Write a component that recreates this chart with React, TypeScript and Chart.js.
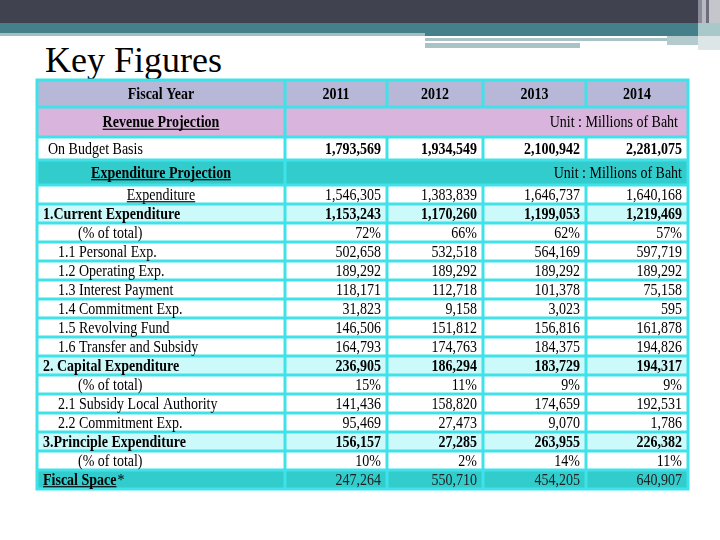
import React, { useEffect, useRef } from "react";
import { Chart, registerables } from "chart.js";

Chart.register(...registerables);

// ---------- data ----------
const years = ["2011", "2012", "2013", "2014"];
const headerLabel = "Fiscal Year";
const revenueTitle = "Revenue Projection";
const revenueRowLabel = "On Budget Basis";
const expenditureTitle = "Expenditure Projection";
const unitText = "Unit : Millions of Baht";
const revenueOnBudget = [1793569, 1934549, 2100942, 2281075];

const rowLabels = [
  "Expenditure",
  "1.Current Expenditure",
  "(% of total)",
  "1.1 Personal Exp.",
  "1.2 Operating Exp.",
  "1.3 Interest Payment",
  "1.4 Commitment Exp.",
  "1.5 Revolving Fund",
  "1.6 Transfer and Subsidy",
  "2. Capital Expenditure",
  "(% of total)",
  "2.1 Subsidy Local Authority",
  "2.2 Commitment Exp.",
  "3.Principle Expenditure",
  "(% of total)",
  "Fiscal Space",
];
const values2011 = [1546305, 1153243, 72, 502658, 189292, 118171, 31823, 146506, 164793, 236905, 15, 141436, 95469, 156157, 10, 247264];
const values2012 = [1383839, 1170260, 66, 532518, 189292, 112718, 9158, 151812, 174763, 186294, 11, 158820, 27473, 27285, 2, 550710];
const values2013 = [1646737, 1199053, 62, 564169, 189292, 101378, 3023, 156816, 184375, 183729, 9, 174659, 9070, 263955, 14, 454205];
const values2014 = [1640168, 1219469, 57, 597719, 189292, 75158, 595, 161878, 194826, 194317, 9, 192531, 1786, 226382, 11, 640907];
const valuesByYear = [values2011, values2012, values2013, values2014];

// ---------- layout / style ----------
const COL_EDGES = [0, 248, 350, 446, 549, 651];
const HEAD_ROW_H = [27, 30, 23, 25];
const DATA_ROW_H = 19;
const FONT = '"Liberation Serif", "Times New Roman", serif';
const FONT_SIZE = 14;
const Y_STRETCH = 1.12;
const BORDER = "#3fe2e8";
const C_HEADER = "#b7b7d7";
const C_REVENUE = "#d9b4dc";
const C_TEAL = "#33cccc";
const C_LIGHT = "#ccfafa";

function fmt(v: number) {
  return v.toLocaleString("en-US");
}

function drawText(
  ctx: CanvasRenderingContext2D,
  text: string,
  x: number,
  y: number,
  align: CanvasTextAlign,
  bold: boolean,
  underline = false,
  color = "#000"
) {
  ctx.save();
  ctx.font = `${bold ? "bold " : ""}${FONT_SIZE}px ${FONT}`;
  ctx.textAlign = align;
  ctx.textBaseline = "alphabetic";
  ctx.fillStyle = color;
  ctx.translate(x, y);
  ctx.scale(1, Y_STRETCH);
  ctx.fillText(text, 0, 0);
  const w = ctx.measureText(text).width;
  if (underline) {
    const x0 = align === "left" ? 0 : align === "center" ? -w / 2 : -w;
    ctx.fillRect(x0, 1.5, w, 1);
  }
  ctx.restore();
  return w;
}

const tablePlugin = {
  id: "keyFiguresTable",
  afterDraw(chart: any) {
    const ctx: CanvasRenderingContext2D = chart.ctx;
    const xs = chart.scales.x;
    const ys = chart.scales.y;
    const heights = [...HEAD_ROW_H, ...rowLabels.map(() => DATA_ROW_H)];
    const tops: number[] = [];
    let acc = 0;
    heights.forEach((h) => {
      tops.push(acc);
      acc += h;
    });
    const px = (v: number) => xs.getPixelForValue(v);
    const py = (v: number) => ys.getPixelForValue(v);
    const colL = (c: number) => px(COL_EDGES[c]);
    const colR = (c: number) => px(COL_EDGES[c + 1]);
    const rowT = (r: number) => py(tops[r]);
    const rowB = (r: number) => py(tops[r] + heights[r]);
    const base = (r: number) => (rowT(r) + rowB(r)) / 2 + 5;

    const isBold = (i: number) => /^\d\.\s?[A-Z]/.test(rowLabels[i]);
    const isFiscal = (i: number) => i === rowLabels.length - 1;

    const rowFill = (r: number) => {
      if (r === 0) return C_HEADER;
      if (r === 1) return C_REVENUE;
      if (r === 2) return "#ffffff";
      if (r === 3) return C_TEAL;
      const i = r - 4;
      if (isFiscal(i)) return C_TEAL;
      if (isBold(i)) return C_LIGHT;
      return "#ffffff";
    };

    // fills
    heights.forEach((_, r) => {
      ctx.fillStyle = rowFill(r);
      ctx.fillRect(colL(0), rowT(r), colR(COL_EDGES.length - 2) - colL(0), rowB(r) - rowT(r));
    });

    // borders
    ctx.strokeStyle = BORDER;
    ctx.lineWidth = 3;
    ctx.beginPath();
    heights.forEach((_, r) => {
      ctx.moveTo(colL(0) - 1.5, rowT(r));
      ctx.lineTo(colR(COL_EDGES.length - 2) + 1.5, rowT(r));
    });
    ctx.moveTo(colL(0) - 1.5, rowB(heights.length - 1));
    ctx.lineTo(colR(COL_EDGES.length - 2) + 1.5, rowB(heights.length - 1));
    heights.forEach((_, r) => {
      COL_EDGES.forEach((e, ci) => {
        const merged = (r === 1 || r === 3) && ci >= 2 && ci <= COL_EDGES.length - 2;
        if (merged) return;
        ctx.moveTo(px(e), rowT(r));
        ctx.lineTo(px(e), rowB(r));
      });
    });
    ctx.stroke();

    const right = colR(COL_EDGES.length - 2);
    const labelCenter = (colL(0) + colR(0)) / 2;

    // header row
    drawText(ctx, headerLabel, labelCenter, base(0), "center", true);
    years.forEach((yr, k) => {
      drawText(ctx, yr, (colL(k + 1) + colR(k + 1)) / 2, base(0), "center", true);
    });
    // revenue title
    drawText(ctx, revenueTitle, labelCenter, base(1), "center", true, true);
    drawText(ctx, unitText, right - 10, base(1), "right", false);
    // revenue values
    drawText(ctx, revenueRowLabel, colL(0) + 11, base(2), "left", false);
    revenueOnBudget.forEach((v, k) => {
      drawText(ctx, fmt(v), colR(k + 1) - 6, base(2), "right", true);
    });
    // expenditure title
    drawText(ctx, expenditureTitle, labelCenter, base(3), "center", true, true);
    drawText(ctx, unitText, right - 6, base(3), "right", false);

    // data rows
    rowLabels.forEach((label, i) => {
      const r = i + 4;
      const b = base(r);
      const bold = isBold(i);
      if (isFiscal(i)) {
        const w = drawText(ctx, label, colL(0) + 6, b, "left", true, true);
        drawText(ctx, "*", colL(0) + 7 + w, b, "left", false);
      } else if (label === "Expenditure") {
        drawText(ctx, label, labelCenter, b, "center", false, true);
      } else if (label.startsWith("(")) {
        drawText(ctx, label, colL(0) + 41, b, "left", false);
      } else if (bold) {
        drawText(ctx, label, colL(0) + 6, b, "left", true);
      } else {
        drawText(ctx, label, colL(0) + 21, b, "left", false);
      }
      valuesByYear.forEach((vals, k) => {
        const txt = label.startsWith("(") ? `${vals[i]}%` : fmt(vals[i]);
        drawText(ctx, txt, colR(k + 1) - 6, b, "right", bold, false, isFiscal(i) ? "#222" : "#000");
      });
    });
  },
};

export default function App() {
  const canvasRef = useRef<HTMLCanvasElement | null>(null);

  useEffect(() => {
    if (!canvasRef.current) return;
    const total = HEAD_ROW_H.reduce((a, b) => a + b, 0) + rowLabels.length * DATA_ROW_H;
    const chart = new Chart(canvasRef.current, {
      type: "scatter",
      data: { datasets: [] },
      options: {
        animation: false,
        responsive: false,
        events: [],
        layout: { padding: { left: 37, top: 80, right: 32, bottom: 540 - 80 - total } },
        plugins: {
          legend: { display: false },
          tooltip: { enabled: false },
          title: { display: false },
        },
        scales: {
          x: { type: "linear", display: false, min: 0, max: COL_EDGES[COL_EDGES.length - 1] },
          y: { type: "linear", display: false, reverse: true, min: 0, max: total },
        },
      },
      plugins: [tablePlugin],
    } as any);
    return () => chart.destroy();
  }, []);

  const abs = (l: number, t: number, w: number, h: number, bg: string): React.CSSProperties => ({
    position: "absolute",
    left: l,
    top: t,
    width: w,
    height: h,
    background: bg,
  });

  return (
    <div style={{ position: "absolute", left: 0, top: 0, width: 720, height: 540, background: "#fff", overflow: "hidden" }}>
      {/* slide decoration */}
      <div style={abs(0, 0, 698, 23, "#41424f")} />
      <div style={abs(0, 23, 698, 10, "#457f89")} />
      <div style={abs(425, 33, 273, 3, "#457f89")} />
      <div style={abs(0, 33, 425, 3, "#a3bec2")} />
      <div style={abs(425, 38, 242, 3, "#a9c2c5")} />
      <div style={abs(425, 43, 155, 5, "#a9c2c5")} />
      <div style={abs(667, 36, 31, 9, "#b4cbcd")} />
      <div style={abs(698, 0, 4, 23, "#8a8b98")} />
      <div style={abs(702, 0, 4, 23, "#b9b9c2")} />
      <div style={abs(706, 0, 3, 23, "#6c6d7a")} />
      <div style={abs(709, 0, 11, 23, "#c5c5cc")} />
      <div style={abs(698, 23, 22, 13, "#a9c8ca")} />
      <div style={abs(698, 36, 22, 14, "#dde6e7")} />
      <div
        style={{
          position: "absolute",
          left: 45,
          top: 42,
          fontFamily: FONT,
          fontSize: 36,
          lineHeight: "36px",
          color: "#000",
          whiteSpace: "nowrap",
        }}
      >
        Key Figures
      </div>
      <canvas ref={canvasRef} width={720} height={540} style={{ position: "absolute", left: 0, top: 0 }} />
    </div>
  );
}
